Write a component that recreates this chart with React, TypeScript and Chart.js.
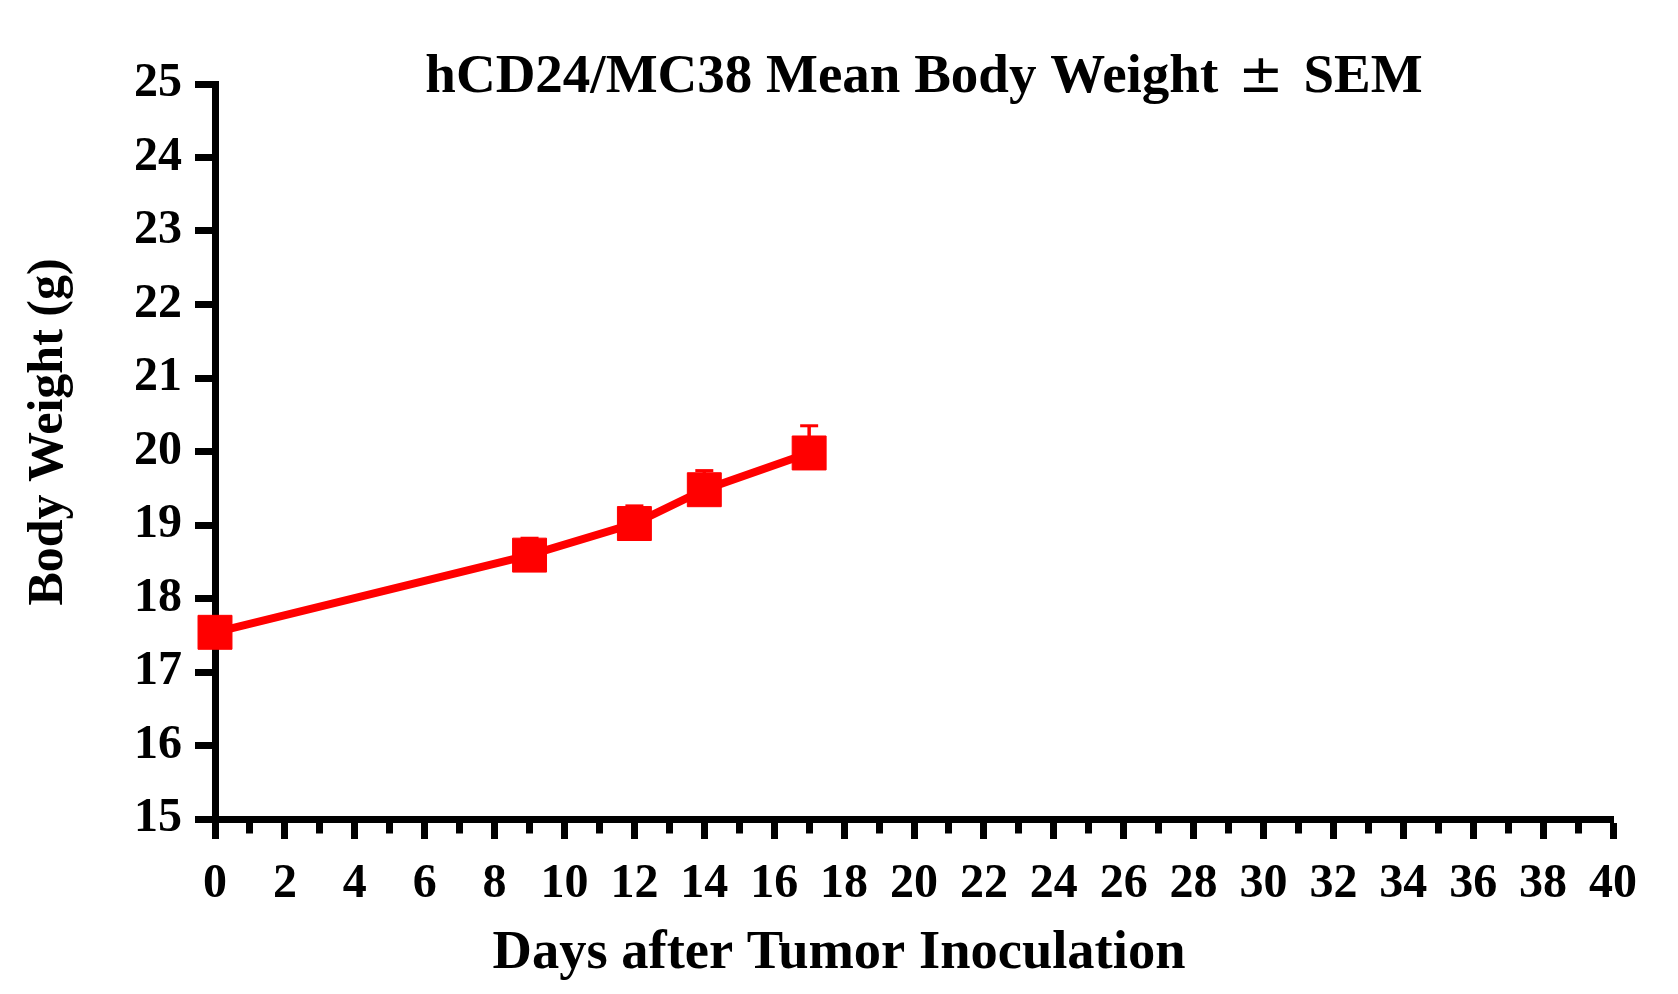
import React, { useEffect, useRef } from "react";
import { Chart, registerables } from "chart.js";

Chart.register(...registerables);

// data
const days = [0, 9, 12, 14, 17];
const meanWeight = [17.54, 18.59, 19.02, 19.48, 19.98];
const semWeight = [0.18, 0.23, 0.24, 0.26, 0.37];

const xTickLabels = ["0", "2", "4", "6", "8", "10", "12", "14", "16", "18", "20", "22", "24", "26", "28", "30", "32", "34", "36", "38", "40"];
const yTickLabels = ["15", "16", "17", "18", "19", "20", "21", "22", "23", "24", "25"];

// title is drawn in three pieces: the ± glyph is a larger symbol in the original
const chartTitleParts = ["hCD24/MC38 Mean Body Weight", "\u00B1", "SEM"];
const xTitle = "Days after Tumor Inoculation";
const yTitle = "Body Weight (g)";

const RED = "#ff0000";
const SERIF = "'Liberation Serif', 'Times New Roman', serif";

// upper SEM whiskers, drawn under the markers
const errorBars = {
  id: "errorBars",
  beforeDatasetsDraw(chart: any) {
    const { ctx, scales } = chart;
    const x = scales.x;
    const y = scales.y;
    ctx.save();
    ctx.strokeStyle = RED;
    ctx.lineCap = "butt";
    days.forEach((d, i) => {
      const px = x.getPixelForValue(d);
      const py = y.getPixelForValue(meanWeight[i]);
      const top = y.getPixelForValue(meanWeight[i] + semWeight[i]);
      ctx.lineWidth = 3.5;
      ctx.beginPath();
      ctx.moveTo(px, py);
      ctx.lineTo(px, top);
      ctx.stroke();
      ctx.lineWidth = 3;
      ctx.beginPath();
      ctx.moveTo(px - 9, top);
      ctx.lineTo(px + 9, top);
      ctx.stroke();
    });
    ctx.restore();
  },
};

// chart and axis titles
const titles = {
  id: "titles",
  afterDraw(chart: any) {
    const { ctx, chartArea } = chart;
    ctx.save();
    ctx.fillStyle = "#000";
    ctx.textBaseline = "alphabetic";

    const fonts = [`bold 55px ${SERIF}`, `normal 54px 'DejaVu Sans', sans-serif`, `bold 55px ${SERIF}`];
    const gap = 20;
    const widths = chartTitleParts.map((t, i) => {
      ctx.font = fonts[i];
      return ctx.measureText(t).width;
    });
    const total = widths.reduce((a, b) => a + b, 0) + gap * 2;
    let tx = (chartArea.left + chartArea.right) / 2 + 10 - total / 2;
    ctx.textAlign = "left";
    chartTitleParts.forEach((t, i) => {
      ctx.font = fonts[i];
      ctx.fillText(t, tx, 92);
      tx += widths[i] + gap;
    });

    ctx.textAlign = "center";
    ctx.font = `bold 54.5px ${SERIF}`;
    ctx.fillText(xTitle, chartArea.left + 624, 968);

    ctx.font = `bold 50px ${SERIF}`;
    ctx.translate(62, 432);
    ctx.rotate(-Math.PI / 2);
    ctx.fillText(yTitle, 0, 0);
    ctx.restore();
  },
};

export default function App() {
  const canvasRef = useRef<HTMLCanvasElement>(null);
  const chartRef = useRef<Chart | null>(null);

  useEffect(() => {
    document.body.style.margin = "0";
    const canvas = canvasRef.current;
    if (!canvas) return;
    const ctx = canvas.getContext("2d");
    if (!ctx) return;

    if (chartRef.current) chartRef.current.destroy();

    const tickFont = { family: SERIF, size: 48, weight: "bold" as const };

    chartRef.current = new Chart(ctx, {
      type: "line",
      data: {
        datasets: [
          {
            label: "hCD24/MC38",
            data: days.map((d, i) => ({ x: d, y: meanWeight[i] })),
            borderColor: RED,
            backgroundColor: RED,
            borderWidth: 8,
            pointStyle: "rect",
            pointRadius: 24,
            pointBorderWidth: 1,
            pointBorderColor: RED,
            pointBackgroundColor: RED,
            tension: 0,
            clip: false,
          },
        ],
      },
      options: {
        animation: false,
        responsive: false,
        devicePixelRatio: 1,
        layout: { padding: { left: 0, right: 65, top: 84, bottom: 0 } },
        plugins: {
          legend: { display: false },
          title: { display: false },
          tooltip: { enabled: false },
        },
        scales: {
          x: {
            type: "linear",
            min: 0,
            max: 40,
            afterFit: (s: any) => {
              s.height = 175;
            },
            border: { display: true, color: "#000", width: 7 },
            grid: {
              drawOnChartArea: false,
              drawTicks: true,
              tickLength: 20,
              tickWidth: 7,
              tickColor: "#000",
              tickBorderDash: (c: any) => (c.tick && c.tick.value % 2 ? [10.5, 200] : []),
            },
            ticks: {
              stepSize: 1,
              autoSkip: false,
              maxRotation: 0,
              minRotation: 0,
              padding: 17,
              color: "#000",
              font: tickFont,
              callback: (v: any) => (xTickLabels.includes(String(v)) ? String(v) : ""),
            },
          },
          y: {
            type: "linear",
            min: 15,
            max: 25,
            afterFit: (s: any) => {
              s.width = 215;
            },
            border: { display: true, color: "#000", width: 7 },
            grid: {
              drawOnChartArea: false,
              drawTicks: true,
              tickLength: 20,
              tickWidth: 7,
              tickColor: "#000",
            },
            ticks: {
              stepSize: 1,
              padding: 13,
              color: "#000",
              font: tickFont,
              callback: (v: any) => (yTickLabels.includes(String(v)) ? String(v) : ""),
            },
          },
        },
      },
      plugins: [errorBars, titles],
    });

    return () => {
      chartRef.current?.destroy();
      chartRef.current = null;
    };
  }, []);

  return <canvas ref={canvasRef} width={1678} height={994} style={{ display: "block" }} />;
}
